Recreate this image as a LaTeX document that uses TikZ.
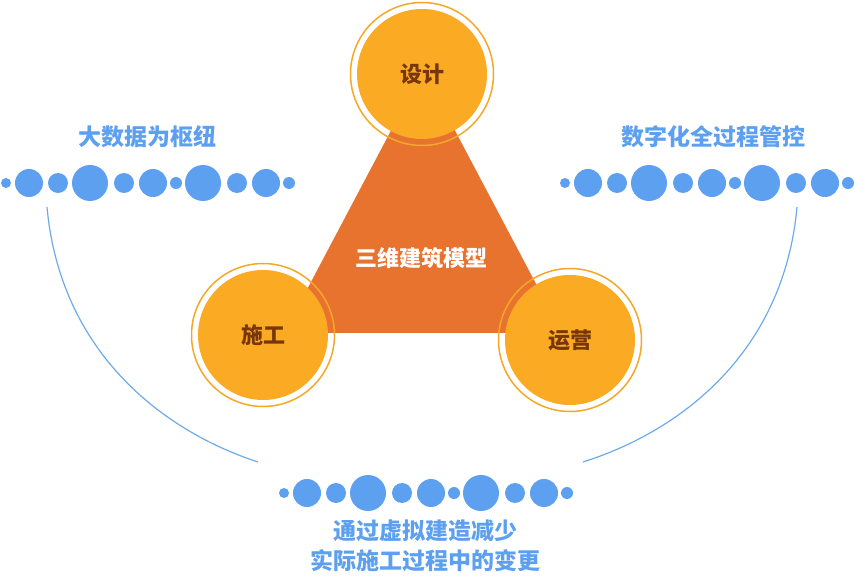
\documentclass[tikz,border=0pt]{standalone}
\usepackage{fontspec}
\setmainfont{Noto Sans CJK SC}
\usepackage{tikz}
\usetikzlibrary{positioning, calc}
\definecolor{tricolor}{RGB}{232,115,46}
\definecolor{circcolor}{RGB}{251,170,36}
\definecolor{ringcolor}{RGB}{245,168,40}
\definecolor{txtcolor}{RGB}{120,55,10}
\definecolor{bluecolor}{RGB}{93,160,240}
\definecolor{arccolor}{RGB}{110,170,235}
\tikzset{
    phase/.style={circle, fill=circcolor, minimum size=130pt, inner sep=0pt, font=\fontsize{22}{24}\selectfont\bfseries, text=txtcolor},
    ring/.style={draw=ringcolor, line width=1.5pt, circle, minimum size=143pt, inner sep=0pt},
    bluetext/.style={font=\fontsize{23}{30}\selectfont\bfseries, text=bluecolor, align=center}
}
\newcommand{\dotrow}[2]{%
    \foreach \dx/\r in {0/5,23/14,52/10,84/18,118/10,147/14,170/6,197/18,231/10,260/14,283/6}
        \fill[bluecolor] (#1+\dx,#2) circle (\r);
}
\begin{document}
\begin{tikzpicture}[x=1pt, y=-1pt]
    \useasboundingbox (0,0) rectangle (855,580);
    % Triangle central
    \fill[tricolor] (423,70) -- (284,333) -- (562,333) -- cycle;
    \node[font=\fontsize{22}{24}\selectfont\bfseries, text=white] (model) at (421,258) {三维建筑模型};

    % Trois phases
    \node[ring] (ring1) at (422,74) {};
    \node[phase] (design) at (422,74) {设计};
    \node[ring] (ring2) at (263,335) {};
    \node[phase] (build) at (263,335) {施工};
    \node[ring] (ring3) at (570,340) {};
    \node[phase] (operate) at (570,340) {运营};

    % Textes bleus
    \node[bluetext] (hub) at (147,137) {大数据为枢纽};
    \node[bluetext] (digital) at (713,137) {数字化全过程管控};
    \node[bluetext] (virtual) at (425,546) {通过虚拟建造减少\\实际施工过程中的变更};

    % Rangées de points
    \dotrow{6}{183}
    \dotrow{565}{183}
    \dotrow{284}{493}

    % Arcs
    \coordinate (la) at (47,207);
    \coordinate (lb) at (258,462);
    \coordinate (ra) at (797,207);
    \coordinate (rb) at (583,462);
    \draw[arccolor, line width=1.2pt] (la) .. controls (60,350) and (160,430) .. (lb);
    \draw[arccolor, line width=1.2pt] (ra) .. controls (784,350) and (684,430) .. (rb);
\end{tikzpicture}
\end{document}
